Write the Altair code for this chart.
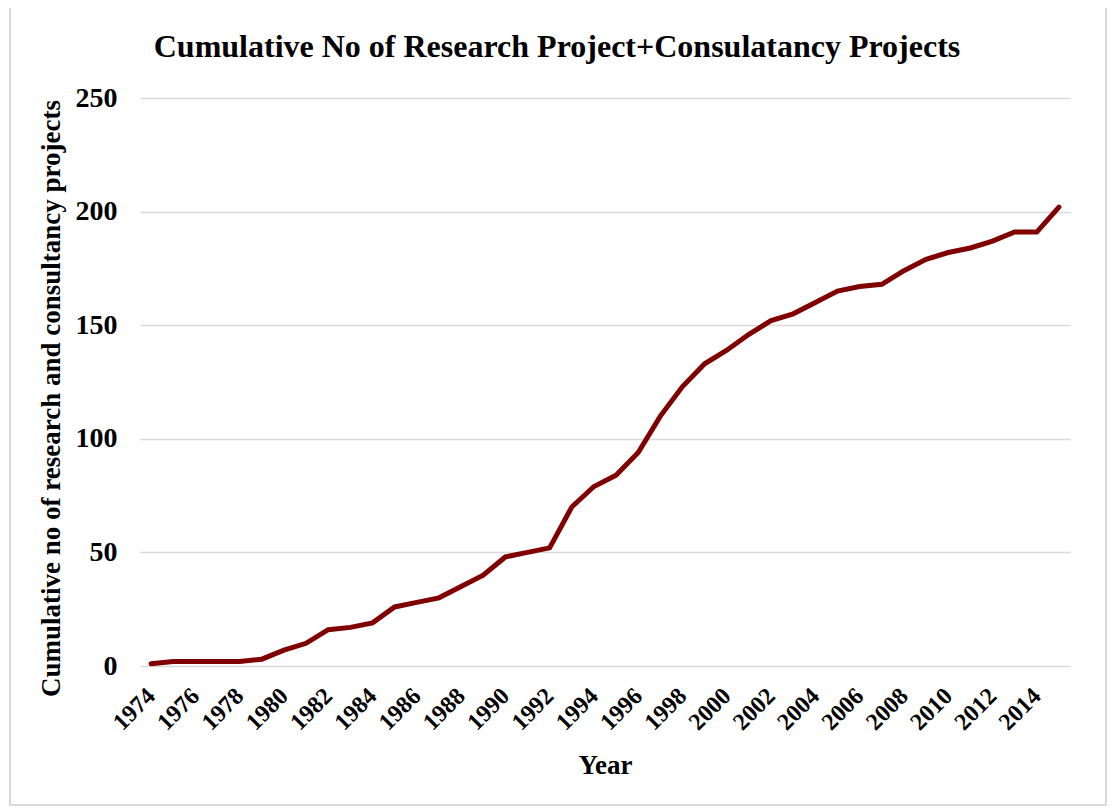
import altair as alt
import pandas as pd

years = list(range(1974, 2016))
values = [1, 2, 2, 2, 2, 3, 7, 10, 16, 17, 19, 26, 28, 30, 35, 40, 48, 50, 52, 70,
          79, 84, 94, 110, 123, 133, 139, 146, 152, 155, 160, 165, 167, 168, 174, 179,
          182, 184, 187, 191, 191, 202]
tick_years = list(range(1974, 2015, 2))
y_ticks = [0, 50, 100, 150, 200, 250]

df = pd.DataFrame({"Year": years, "Projects": values})

FONT = "Liberation Serif"

line = alt.Chart(df).mark_line(color="#800000", strokeWidth=5, strokeCap="round").encode(
    x=alt.X("Year:Q",
            scale=alt.Scale(domain=[1973.5, 2015.5], nice=False, zero=False),
            axis=alt.Axis(values=tick_years, format="d", labelAngle=-45, labelAlign="right",
                          labelBaseline="middle", labelFont=FONT, labelFontWeight="bold",
                          labelFontSize=24, labelColor="black", labelPadding=26,
                          ticks=False, domain=False, grid=False,
                          title="Year", titleFont=FONT, titleFontSize=27,
                          titleFontWeight="bold", titleColor="black", titlePadding=18,
                          labelOverlap=False)),
    y=alt.Y("Projects:Q",
            scale=alt.Scale(domain=[0, 250], nice=False),
            axis=alt.Axis(values=y_ticks, labelFont=FONT, labelFontWeight="bold",
                          labelFontSize=28, labelColor="black", labelPadding=23,
                          ticks=False, domain=False, grid=True, gridColor="#d9d9d9",
                          gridWidth=1.5,
                          title="Cumulative no of research and consultancy projects",
                          titleFont=FONT, titleFontSize=27, titleFontWeight="bold",
                          titleColor="black", titlePadding=10, titleY=300)),
)

frame_df = pd.DataFrame({"k": [0]})
frame = alt.Chart(frame_df).mark_rect(fill="transparent", stroke="#d9d9d9", strokeWidth=2).encode(
    x=alt.value(-130), x2=alt.value(966), y=alt.value(-97), y2=alt.value(707)
)

chart = alt.layer(frame, line).properties(
    width=930,
    height=568,
    background="white",
    title=alt.TitleParams("Cumulative No of Research Project+Consulatancy Projects",
                          font=FONT, fontSize=32, fontWeight="bold", color="black",
                          anchor="middle", dx=-48, offset=-96, frame="group",
                          baseline="bottom"),
    autosize=alt.AutoSizeParams(type="none"),
    padding={"left": 132, "top": 90, "right": 40, "bottom": 142},
).configure_view(strokeWidth=0, stroke="transparent")

chart.save("out.html", embed_options={"renderer": "svg", "actions": False})
